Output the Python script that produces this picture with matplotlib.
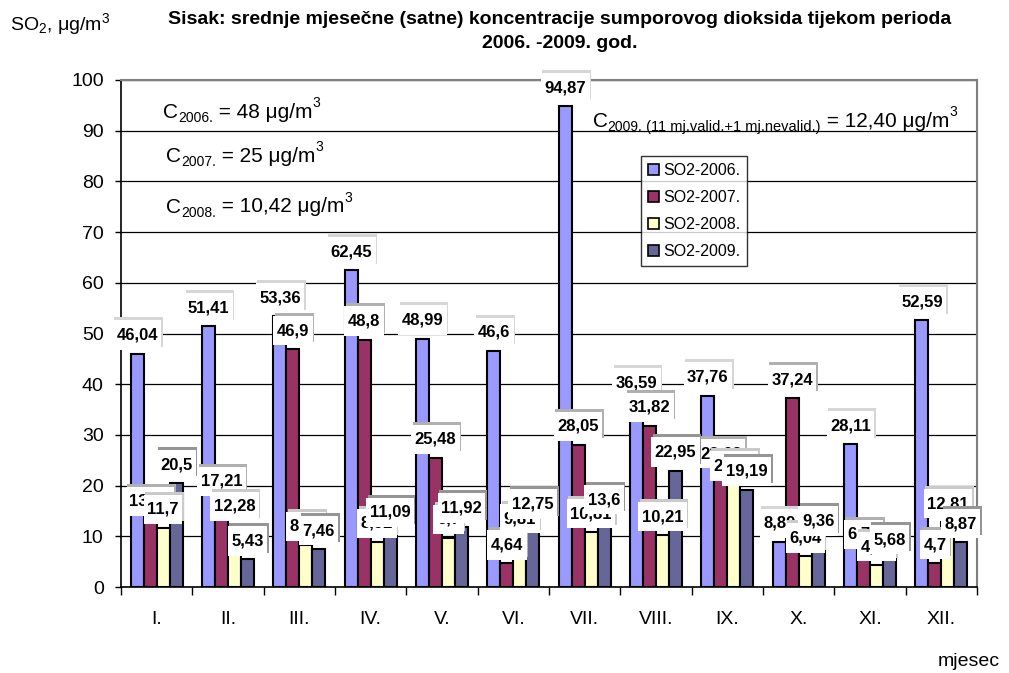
import matplotlib
matplotlib.use("Agg")
import matplotlib.pyplot as plt
from matplotlib.path import Path
from matplotlib.patches import Patch
import numpy as np

plt.rcParams['font.family'] = ['Liberation Sans', 'DejaVu Sans']
plt.rcParams['mathtext.fontset'] = 'custom'
plt.rcParams['mathtext.rm'] = 'Liberation Sans'
plt.rcParams['mathtext.it'] = 'Liberation Sans:italic'
plt.rcParams['mathtext.bf'] = 'Liberation Sans:bold'
plt.rcParams['mathtext.default'] = 'regular'

months = ["I.", "II.", "III.", "IV.", "V.", "VI.", "VII.", "VIII.", "IX.", "X.", "XI.", "XII."]
series_names = ["SO2-2006.", "SO2-2007.", "SO2-2008.", "SO2-2009."]
so2_2006 = [46.04, 51.41, 53.36, 62.45, 48.99, 46.6, 94.87, 36.59, 37.76, 8.89, 28.11, 52.59]
so2_2007 = [13.24, 17.21, 46.9, 48.8, 25.48, 4.64, 28.05, 31.82, 22.63, 37.24, 6.74, 4.7]
so2_2008 = [11.7, 12.28, 8.31, 8.92, 9.7, 9.81, 10.81, 10.21, 20.22, 6.04, 4.32, 12.81]
so2_2009 = [20.5, 5.43, 7.46, 11.09, 11.92, 12.75, 13.6, 22.95, 19.19, 9.36, 5.68, 8.87]
series = [so2_2006, so2_2007, so2_2008, so2_2009]
colors = ["#9999FF", "#993366", "#FFFFCC", "#666699"]
shadow_colors = ["#d6d6d6", "#b0b0b0", "#cacaca", "#959595"]


def label_box(x0, y0, width, height, mutation_size):
    px = 0.21 * mutation_size
    py = 0.43 * mutation_size
    x0 -= px
    y0 -= py
    x1 = x0 + width + 2 * px
    y1 = y0 + height + 2 * py
    return Path([(x0, y0), (x1, y0), (x1, y1), (x0, y1), (x0, y0)],
                [Path.MOVETO, Path.LINETO, Path.LINETO, Path.LINETO, Path.CLOSEPOLY])


def rich_text(ax, x, y, parts, zorder=4):
    """parts: list of (text, fontsize, baseline shift in points)."""
    s0, fs0, _ = parts[0]
    first = ax.text(x, y, s0, fontsize=fs0, transform=ax.transAxes,
                    ha="left", va="baseline", zorder=zorder)
    prev = first
    desc = 0.212 * fs0
    for s, fs, shift in parts[1:]:
        prev = ax.annotate(s, xy=(1, 0), xycoords=(prev, first),
                           xytext=(0, desc + shift), textcoords="offset points",
                           fontsize=fs, ha="left", va="baseline", zorder=zorder)
    return first


fig = plt.figure(figsize=(10.09, 6.73), dpi=100)
ax = fig.add_axes([121 / 1009, 1 - 587 / 673, 856 / 1009, 507 / 673])

x = np.arange(len(months))
w = 0.182
for s, vals in enumerate(series):
    ax.bar(x + (s - 1.5) * w, vals, width=w, color=colors[s], edgecolor="black",
           linewidth=1.5, zorder=3, label=series_names[s])

for s, vals in enumerate(series):
    for i, v in enumerate(vals):
        txt = f"{v:g}".replace(".", ",")
        xc = x[i] + (s - 1.5) * w
        z = 5 + (s * 12 + i) * 0.1
        ax.annotate(txt, xy=(xc, v), xytext=(1.5, 14), textcoords="offset pixels",
                    ha="center", va="bottom", fontsize=12, fontweight="bold",
                    color="none", zorder=z, annotation_clip=False,
                    bbox=dict(boxstyle=label_box, facecolor=shadow_colors[s],
                              edgecolor="none"))
        ax.annotate(txt, xy=(xc, v), xytext=(0, 11), textcoords="offset pixels",
                    ha="center", va="bottom", fontsize=12, fontweight="bold",
                    color="black", zorder=z + 0.05, annotation_clip=False,
                    bbox=dict(boxstyle=label_box, facecolor="white",
                              edgecolor="none"))

ax.set_xlim(-0.5, len(months) - 0.5)
ax.set_ylim(0, 100)
ax.set_yticks(np.arange(0, 101, 10))
ax.yaxis.grid(True, color="black", linewidth=0.9, zorder=0)
ax.set_axisbelow(True)
ax.set_xticks(np.arange(-0.5, len(months), 1.0))
ax.set_xticklabels([])
ax.set_xticks(x, minor=True)
ax.set_xticklabels(months, minor=True)
ax.tick_params(axis="x", which="major", length=6, width=1, direction="out")
ax.tick_params(axis="x", which="minor", length=0, pad=17, labelsize=14)
ax.tick_params(axis="y", length=4.5, width=1, labelsize=14, pad=8)
for sp in ["left", "bottom"]:
    ax.spines[sp].set_color("black")
    ax.spines[sp].set_linewidth(1.2)
for sp in ["top", "right"]:
    ax.spines[sp].set_color("#808080")
    ax.spines[sp].set_linewidth(1.5)

handles = [Patch(facecolor=colors[s], edgecolor="black", linewidth=1.2) for s in range(4)]
leg = ax.legend(handles, series_names, loc="upper left", bbox_to_anchor=(0.607, 0.85),
                fontsize=11.5, frameon=True, fancybox=False, shadow=False,
                handlelength=0.7, handleheight=0.7, handletextpad=0.25,
                labelspacing=0.75, borderpad=0.45, borderaxespad=0)
leg.get_frame().set_edgecolor("black")
leg.get_frame().set_linewidth(1.0)
leg.set_zorder(20)

rich_text(ax, 0.049, 0.925, [("C", 15, 0), ("2006.", 10, -3), (" = 48 μg/m", 15, 0), ("3", 10, 7.5)])
rich_text(ax, 0.0526, 0.838, [("C", 15, 0), ("2007.", 10, -3), (" = 25 μg/m", 15, 0), ("3", 10, 7.5)])
rich_text(ax, 0.0526, 0.738, [("C", 15, 0), ("2008.", 10, -3), (" = 10,42 μg/m", 15, 0), ("3", 10, 7.5)])
rich_text(ax, 0.551, 0.907, [("C", 15, 0), ("2009.", 10, -3),
                             (" (11 mj.valid.+1 mj.nevalid.)", 10.5, -3),
                             (" = 12,40 μg/m", 15, 0), ("3", 10, 7.5)])

fig.text(560 / 1009, 1 - 20 / 673,
         "Sisak: srednje mjesečne (satne) koncentracije sumporovog dioksida tijekom perioda",
         ha="center", va="center", fontsize=14, fontweight="bold")
fig.text(560 / 1009, 1 - 43 / 673, "2006. -2009. god.",
         ha="center", va="center", fontsize=14, fontweight="bold")
fig.text(10 / 1009, 1 - 24 / 673, r"SO$_2$, μg/m$^3$", ha="left", va="center", fontsize=14)
fig.text(1000 / 1009, 1 - 662 / 673, "mjesec", ha="right", va="center", fontsize=14)

fig.savefig("out.png", dpi=100)
